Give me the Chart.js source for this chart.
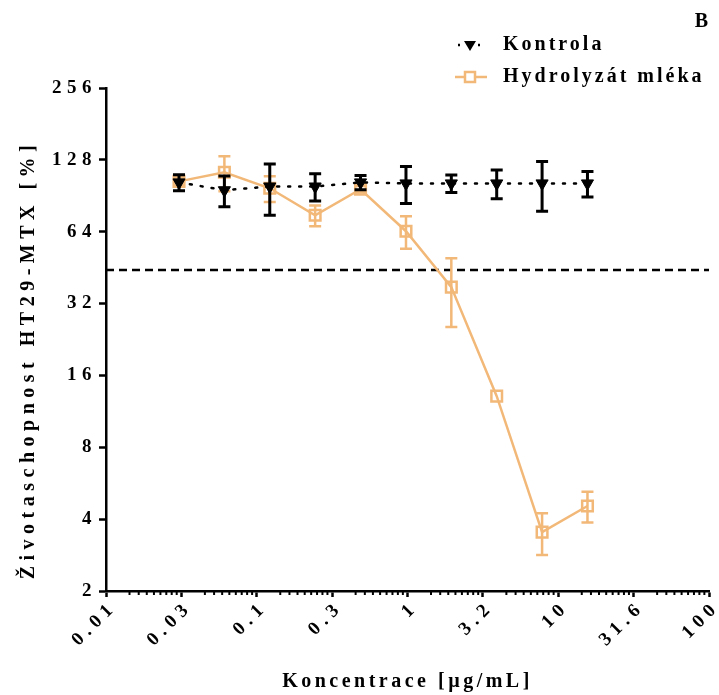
<!DOCTYPE html>
<html>
<head>
<meta charset="utf-8">
<script src="https://cdn.jsdelivr.net/npm/chart.js@4.4.1/dist/chart.umd.min.js"></script>
<style>
  html, body { margin: 0; padding: 0; background: #fff; }
</style>
</head>
<body>
<canvas id="chart" width="719" height="695"></canvas>
<script>
// Concentration series (µg/mL), two-fold dilutions
const concentrations = [0.0305, 0.061, 0.122, 0.244, 0.488, 0.977, 1.953, 3.906, 7.8125, 15.625];

// Viability [%], mean and SD
const kontrolaMean = [103, 95.5, 99, 99, 103, 102, 102, 102, 102, 102];
const kontrolaSd = [8, 14, 24, 13, 7, 18, 8.5, 14, 24, 12.5];
const hydrolyzatMean = [104, 113.6, 97.3, 75, 96.4, 64.3, 37.5, 13.1, 3.53, 4.54];
const hydrolyzatSd = [4, 19, 12, 7.5, 3, 10, 12, 0, 0.7, 0.67];

// Horizontal reference line
const cutoffX = [0.01, 100];
const cutoffY = [44.2, 44.2];

// Axis ticks
const xTickValues = [0.01, 0.0316, 0.1, 0.316, 1, 3.16, 10, 31.6, 100];
const xTickLabels = ['0.01', '0.03', '0.1', '0.3', '1', '3.2', '10', '31.6', '100'];
const yTickValues = [2, 4, 8, 16, 32, 64, 128, 256];

const ORANGE = '#f2b878';
const FONT = '"Liberation Serif", "Times New Roman", serif';

const pairs = (xs, ys) => xs.map((x, i) => ({ x, y: ys[i] }));

// wrap a scale draw method so its text gets letter spacing (and an optional shift)
function withSpacing(scale, method, spacing, dx = 0, dy = 0) {
    if (scale[method]._patched) return;
    const orig = scale[method];
    const fn = function (...args) {
        const ctx = this.ctx;
        ctx.save();
        ctx.letterSpacing = spacing;
        ctx.translate(dx, dy);
        orig.apply(this, args);
        ctx.restore();
    };
    fn._patched = true;
    scale[method] = fn;
}

// error bars, drawn just under each dataset's own line/markers
const errorBars = {
    id: 'errorBars',
    beforeDatasetDraw(chart, args) {
        const ds = chart.data.datasets[args.index];
        if (!ds.sd) return;
        const { x, y } = chart.scales;
        const ctx = chart.ctx;
        ctx.save();
        ctx.strokeStyle = ds.errorColor;
        ctx.lineWidth = ds.errorWidth;
        ds.data.forEach((p, i) => {
            const sd = ds.sd[i];
            if (!sd) return;
            const px = x.getPixelForValue(p.x);
            const top = y.getPixelForValue(p.y + sd);
            const bot = y.getPixelForValue(p.y - sd);
            ctx.beginPath();
            ctx.moveTo(px, top); ctx.lineTo(px, bot);
            ctx.moveTo(px - 6, top); ctx.lineTo(px + 6, top);
            ctx.moveTo(px - 6, bot); ctx.lineTo(px + 6, bot);
            ctx.stroke();
        });
        ctx.restore();
    }
};

// minor log ticks on x axis, spaced text on both axes
const axisExtras = {
    id: 'axisExtras',
    afterLayout(chart) {
        const { x, y } = chart.scales;
        withSpacing(x, 'drawLabels', '5.5px', 8, -7);
        withSpacing(y, 'drawLabels', '5.5px');
        withSpacing(x, 'drawTitle', '3.5px');
        withSpacing(y, 'drawTitle', '5.5px', 0, 20);
    },
    afterDraw(chart) {
        const ctx = chart.ctx;
        const xs = chart.scales.x;
        const base = chart.chartArea.bottom;
        ctx.save();
        ctx.strokeStyle = '#000';
        ctx.lineWidth = 2;
        for (let i = 0; i < xTickValues.length - 1; i++) {
            const a = xTickValues[i], b = xTickValues[i + 1];
            for (let k = 2; k <= 9; k++) {
                const px = xs.getPixelForValue(a + k * (b - a) / 10);
                ctx.beginPath();
                ctx.moveTo(px, base);
                ctx.lineTo(px, base + 4);
                ctx.stroke();
            }
        }
        ctx.restore();
    }
};

const sideLegend = {
    id: 'sideLegend',
    afterDraw(chart) {
        const ctx = chart.ctx;
        ctx.save();
        ctx.fillStyle = '#000';
        ctx.textBaseline = 'middle';
        ctx.font = 'bold 20px ' + FONT;
        ctx.textAlign = 'right';
        ctx.fillText('B', 708, 22);

        ctx.textAlign = 'left';
        ctx.letterSpacing = '3px';

        // Kontrola
        let y = 45;
        ctx.strokeStyle = '#000';
        ctx.lineWidth = 2.5;
        ctx.setLineDash([2, 8]);
        ctx.beginPath(); ctx.moveTo(458, y); ctx.lineTo(486, y); ctx.stroke();
        ctx.setLineDash([]);
        ctx.beginPath();
        ctx.moveTo(464, y - 4); ctx.lineTo(476, y - 4); ctx.lineTo(470, y + 6);
        ctx.closePath(); ctx.fill();
        ctx.fillText('Kontrola', 503, y);

        // Hydrolyzat
        y = 77;
        ctx.strokeStyle = ORANGE;
        ctx.lineWidth = 2.5;
        ctx.beginPath(); ctx.moveTo(455, y); ctx.lineTo(487, y); ctx.stroke();
        ctx.fillStyle = '#fff';
        ctx.fillRect(465, y - 5, 10, 10);
        ctx.strokeRect(465, y - 5, 10, 10);
        ctx.fillStyle = '#000';
        ctx.fillText('Hydrolyzát mléka', 503, y);
        ctx.restore();
    }
};

new Chart(document.getElementById('chart'), {
    type: 'line',
    data: {
        datasets: [
            {
                label: 'Kontrola',
                data: pairs(concentrations, kontrolaMean),
                sd: kontrolaSd,
                errorColor: '#000',
                errorWidth: 3,
                borderColor: '#000',
                borderWidth: 2.5,
                borderDash: [2, 9],
                borderCapStyle: 'round',
                pointStyle: 'triangle',
                pointRotation: 180,
                pointRadius: 7,
                pointBorderWidth: 1,
                pointBackgroundColor: '#000',
                pointBorderColor: '#000',
                tension: 0,
            },
            {
                label: 'Hydrolyzát mléka',
                data: pairs(concentrations, hydrolyzatMean),
                sd: hydrolyzatSd,
                errorColor: ORANGE,
                errorWidth: 2.5,
                borderColor: ORANGE,
                borderWidth: 2.5,
                pointStyle: 'rect',
                pointRadius: 7.5,
                pointBorderWidth: 2.5,
                pointBackgroundColor: 'rgba(255,255,255,0)',
                pointBorderColor: ORANGE,
                tension: 0,
            },
            {
                label: 'cutoff',
                data: pairs(cutoffX, cutoffY),
                borderColor: '#000',
                borderWidth: 2.5,
                borderDash: [8, 5],
                pointRadius: 0,
            },
        ],
    },
    options: {
        responsive: false,
        animation: false,
        layout: { padding: { top: 88, right: 8, left: 0, bottom: 0 } },
        plugins: {
            legend: { display: false },
            tooltip: { enabled: false },
        },
        scales: {
            x: {
                type: 'logarithmic',
                min: 0.01,
                max: 100,
                afterBuildTicks: (axis) => { axis.ticks = xTickValues.map(v => ({ value: v })); },
                afterFit: (axis) => { axis.height = 104; axis.paddingRight = 0; },
                border: { color: '#000', width: 2.5 },
                grid: { drawOnChartArea: false, drawTicks: true, tickLength: 6, tickColor: '#000', tickWidth: 2.5 },
                ticks: {
                    autoSkip: false,
                    minRotation: 45,
                    maxRotation: 45,
                    color: '#000',
                    padding: 6,
                    font: { family: FONT, size: 19, weight: 'bold' },
                    callback: (val, idx) => xTickLabels[idx],
                },
                title: {
                    display: true,
                    text: 'Koncentrace [µg/mL]',
                    color: '#000',
                    padding: { top: 0, bottom: 1 },
                    font: { family: FONT, size: 20, weight: 'bold' },
                },
            },
            y: {
                type: 'logarithmic',
                min: 2,
                max: 256,
                afterBuildTicks: (axis) => { axis.ticks = yTickValues.map(v => ({ value: v })); },
                afterFit: (axis) => { axis.width = 106; },
                border: { color: '#000', width: 2.5 },
                grid: { drawOnChartArea: false, drawTicks: true, tickLength: 7, tickColor: '#000', tickWidth: 2.5 },
                ticks: {
                    color: '#000',
                    padding: 2,
                    font: { family: FONT, size: 19, weight: 'bold' },
                    callback: (val) => String(val),
                },
                title: {
                    display: true,
                    text: 'Životaschopnost HT29-MTX [%]',
                    color: '#000',
                    padding: { top: 17, bottom: 0 },
                    font: { family: FONT, size: 20, weight: 'bold' },
                },
            },
        },
    },
    plugins: [errorBars, axisExtras, sideLegend],
});
</script>
</body>
</html>
